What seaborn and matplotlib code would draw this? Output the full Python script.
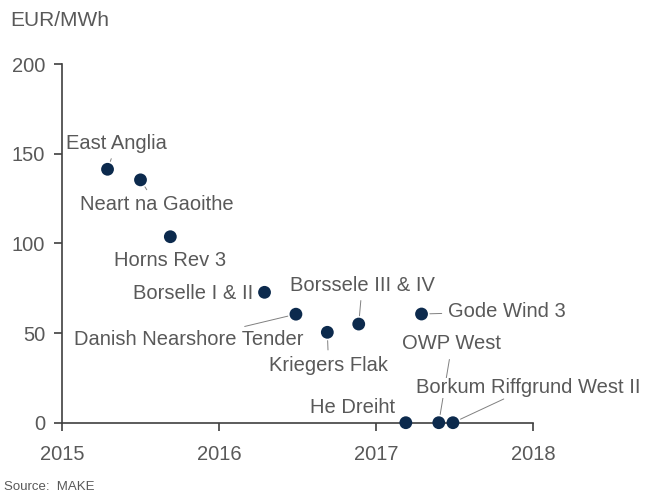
import pandas as pd
import matplotlib
matplotlib.use("Agg")
import matplotlib.pyplot as plt
import seaborn as sns

### Data (auction year vs. strike price)
projects = ['East Anglia', 'Neart na Gaoithe', 'Horns Rev 3', 'Borselle I & II',
            'Danish Nearshore Tender', 'Kriegers Flak', 'Borssele III & IV',
            'Gode Wind 3', 'OWP West', 'Borkum Riffgrund West II', 'He Dreiht']
years = [2015.29, 2015.50, 2015.69, 2016.29, 2016.49, 2016.69, 2016.89,
         2017.29, 2017.40, 2017.49, 2017.19]
prices = [141.3, 135.4, 103.7, 72.7, 60.5, 50.4, 55.0, 60.6, 0, 0, 0]

x_ticks = [2015, 2016, 2017, 2018]
y_ticks = [0, 50, 100, 150, 200]

df = pd.DataFrame({'project': projects, 'year': years, 'price': prices})

# label placement: offset (points) from the dot, alignment, leader line or not
label_layout = {
    'East Anglia': ((6.6, 18.7), 'center', True),
    'Neart na Gaoithe': ((11.4, -18.0), 'center', True),
    'Horns Rev 3': ((0, -16.8), 'center', False),
    'Borselle I & II': ((-7.9, -1.2), 'right', False),
    'Danish Nearshore Tender': ((-77.3, -18.5), 'center', True),
    'Kriegers Flak': ((0.9, -23.9), 'center', True),
    'Borssele III & IV': ((2.5, 28.1), 'center', True),
    'Gode Wind 3': ((18.9, 1.7), 'left', True),
    'OWP West': ((9.5, 56.7), 'center', True),
    'Borkum Riffgrund West II': ((54, 25.2), 'center', True),
    'He Dreiht': ((-7.9, 10.6), 'right', False),
}

sns.set_style('ticks')
plt.rcParams['font.family'] = ['Liberation Sans', 'DejaVu Sans']

text_grey = '#595959'
axis_grey = '#404040'
dot_blue = '#0c2a4d'

fig = plt.figure(figsize=(6.48, 4.95), dpi=100)
ax = fig.add_axes([62 / 648, 1 - 422.7 / 495, (533 - 62) / 648, (422.7 - 64) / 495])

sns.scatterplot(data=df, x='year', y='price', s=85, color=dot_blue,
                edgecolor='none', clip_on=False, zorder=4, ax=ax)

for name, yr, pr in zip(projects, years, prices):
    offset, ha, leader = label_layout[name]
    props = None
    if leader:
        props = dict(arrowstyle='-', color='#808080', lw=0.7, shrinkA=2, shrinkB=6)
    kw = {}
    if name == 'Borkum Riffgrund West II':
        # white box hides the OWP West leader where it passes behind
        kw = dict(bbox=dict(facecolor='white', edgecolor='none', pad=0.5), zorder=3.5)
    ax.annotate(name, xy=(yr, pr), xytext=offset, textcoords='offset points',
                ha=ha, va='center', fontsize=14.5, color=text_grey,
                arrowprops=props, annotation_clip=False, **kw)

ax.set_xlim(2015, 2018)
ax.set_ylim(0, 200)
ax.set_xticks(x_ticks)
ax.set_xticklabels([str(t) for t in x_ticks])
ax.set_yticks(y_ticks)
ax.set_yticklabels([str(t) for t in y_ticks])
ax.set_xlabel('')
ax.set_ylabel('')

sns.despine(ax=ax)
for side in ['left', 'bottom']:
    ax.spines[side].set_color(axis_grey)
    ax.spines[side].set_linewidth(1.2)
ax.tick_params(axis='both', direction='out', length=6, width=1.2, color=axis_grey,
               labelsize=14.5, labelcolor=text_grey)
ax.tick_params(axis='x', pad=10)
ax.tick_params(axis='y', pad=6)

fig.text(10 / 648, 1 - 20 / 495, 'EUR/MWh', ha='left', va='center',
         fontsize=15, color=text_grey)
fig.text(4 / 648, 1 - 487 / 495, 'Source:  MAKE', ha='left', va='center',
         fontsize=9.5, color=text_grey)

fig.savefig('out.png', dpi=100)
